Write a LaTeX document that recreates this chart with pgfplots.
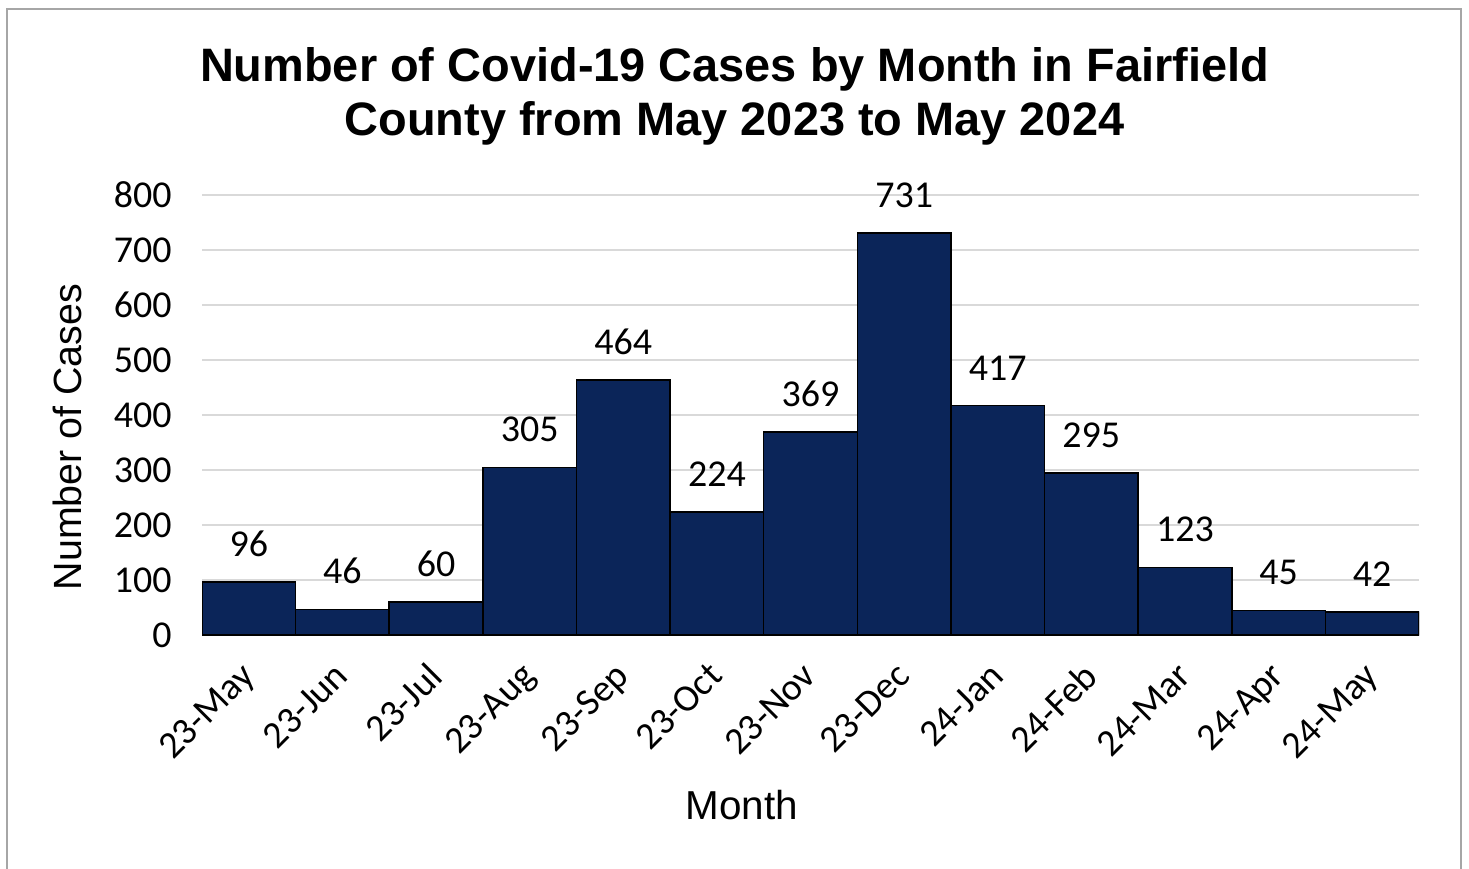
\documentclass[border=0pt]{standalone}
\usepackage{pgfplots}
\pgfplotsset{compat=1.18}
\usepackage{fontspec}
\setmainfont{Carlito}
\newfontfamily\arial{Liberation Sans}
\definecolor{barblue}{HTML}{0B2559}
\definecolor{gridgray}{HTML}{D9D9D9}
\definecolor{framegray}{HTML}{A6A6A6}
\begin{document}
\begin{tikzpicture}
\useasboundingbox (0,0) rectangle (146.9mm,-86.9mm);
\begin{scope}
\clip (0,0) rectangle (146.9mm,-86.9mm);
\draw[framegray, line width=0.2mm] (0.7mm,-0.9mm) rectangle (146.1mm,-90mm);
\end{scope}
\node[font=\arial\bfseries\fontsize{13.35}{15.4}\selectfont, align=center] at (73.45mm,-9.6mm) {Number of Covid-19 Cases by Month in Fairfield\\County from May 2023 to May 2024};
\begin{axis}[at={(20.2mm,-63.5mm)}, anchor=south west, scale only axis,
  width=121.7mm, height=44mm,
  xmin=0, xmax=13, ymin=0, ymax=800,
  ytick={0,100,...,800},
  xtick={0.5,1.5,...,12.5},
  xticklabels={23-May,23-Jun,23-Jul,23-Aug,23-Sep,23-Oct,23-Nov,23-Dec,24-Jan,24-Feb,24-Mar,24-Apr,24-May},
  axis line style={draw=none},
  major tick length=0,
  ymajorgrids, grid style={gridgray, line width=0.2mm},
  /pgf/number format/assume math mode=true,
  yticklabel style={font=\fontsize{10.8}{13}\selectfont, xshift=-1.8mm},
  xticklabel style={font=\fontsize{10.8}{13}\selectfont, xshift=-1mm, yshift=-0.8mm, rotate=45, anchor=north east},
  ybar, bar width=1,
  nodes near coords,
  every node near coord/.append style={font=\fontsize{10.8}{13}\selectfont, yshift=1.3mm},
]
\addplot[fill=barblue, draw=black, line width=0.15mm] coordinates {
(0.5,96) (1.5,46) (2.5,60) (3.5,305) (4.5,464) (5.5,224) (6.5,369) (7.5,731) (8.5,417) (9.5,295) (10.5,123) (11.5,45) (12.5,42)};
\end{axis}
\node[font=\arial\fontsize{11.5}{14}\selectfont] at (74.2mm,-80.5mm) {Month};
\node[font=\arial\fontsize{11.2}{14}\selectfont, rotate=90] at (6.7mm,-43.7mm) {Number of Cases};
\end{tikzpicture}
\end{document}
